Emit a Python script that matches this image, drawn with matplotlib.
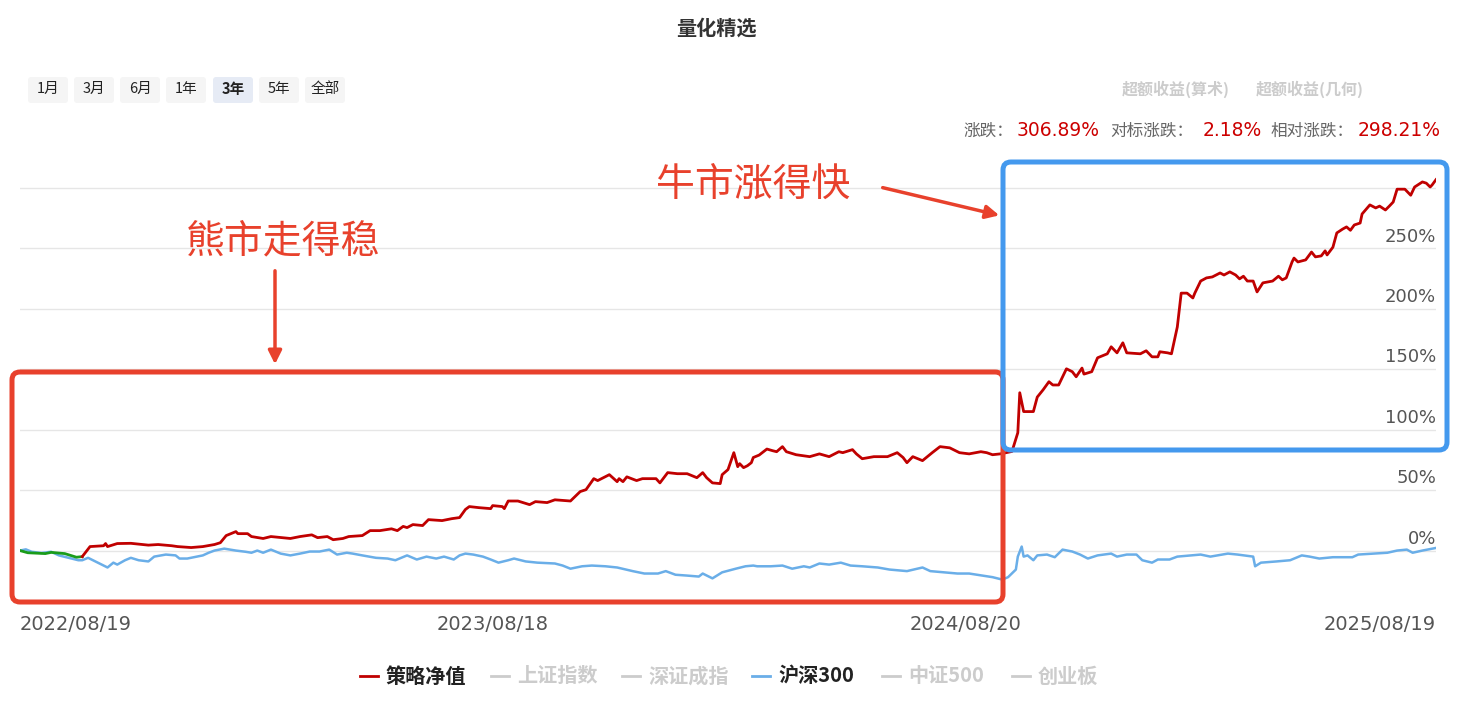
import matplotlib
matplotlib.use("Agg")
import matplotlib.pyplot as plt
from matplotlib.patches import FancyBboxPatch, FancyArrowPatch
from matplotlib.lines import Line2D
import numpy as np

plt.rcParams['font.family'] = ['Noto Sans CJK SC', 'DejaVu Sans']

W, H = 1470, 703

# trading-day index (0 = 2022/08/19, 728 = 2025/08/19) and cumulative return in %
strat_day = [0, 4, 13, 16, 23, 29, 32, 36, 43, 44, 45, 50, 57, 66, 71, 78, 81, 88, 94, 100,
             103, 106, 111, 112, 117, 119, 125, 129, 139, 144, 150, 153, 158, 161, 166, 169, 176, 180, 185, 191,
             194, 197, 199, 202, 207, 210, 217, 222, 226, 229, 231, 236, 242, 243, 248, 249, 251, 256, 262, 265,
             271, 275, 283, 288, 291, 295, 297, 299, 303, 307, 308, 310, 312, 317, 320, 327, 329, 333, 338, 343,
             348, 351, 353, 356, 360, 361, 364, 367, 369, 370, 372, 374, 376, 377, 380, 384, 387, 389, 392, 394,
             399, 406, 411, 416, 421, 423, 428, 430, 433, 439, 446, 451, 454, 456, 459, 464, 469, 473, 478, 483,
             488, 494, 497, 500, 504, 510, 513, 514, 516, 519, 521, 523, 526, 529, 531, 534, 536, 538, 541, 543,
             546, 547, 551, 554, 559, 561, 564, 567, 569, 576, 579, 582, 585, 586, 590, 592, 595, 597, 600, 603,
             604, 607, 610, 613, 617, 619, 622, 625, 627, 629, 631, 634, 636, 639, 644, 647, 649, 651, 654, 655,
             657, 661, 664, 666, 669, 671, 672, 675, 677, 680, 682, 684, 686, 689, 690, 694, 697, 699, 702, 704,
             706, 708, 712, 715, 717, 721, 723, 725, 726, 728]
strat_val = [0, -1.8, -2.5, -1.5, -2.5, -5.5, -5, 3.3, 4, 5.8, 3.3, 5.8, 6, 4.5, 5, 4, 3.3, 2.5, 3.3, 5,
             6.5, 12.4, 15.7, 14, 14, 11.6, 10, 11.6, 10, 11.6, 13, 10.7, 11.6, 9, 10, 11.6, 12.4, 16.5, 16.5, 18,
             16.5, 20, 19, 21.5, 20.7, 25.6, 24.8, 26.4, 27.3, 34, 36.4, 35.5, 34.7, 37.2, 36.4, 34.7, 41, 41, 38, 40.5,
             39.7, 42, 41, 48.8, 50.4, 59.5, 57.9, 59.5, 62.8, 57, 59.5, 57, 61, 57.9, 59.5, 59.5, 56, 64.5, 63.6, 63.6,
             60.3, 64.5, 60.3, 56, 55.4, 62.8, 67, 81, 69.4, 71.9, 68.6, 70.2, 72.7, 77, 79, 84, 82.6, 81.8, 86, 81.8,
             79.3, 77.7, 80, 77.7, 81.8, 81, 83.5, 80, 76, 77.7, 77.7, 81, 77, 72.7, 77.7, 74.4, 81, 86, 85, 81,
             80, 81.8, 81, 79.3, 80, 82, 97.5, 130.6, 115, 115, 115, 127, 133, 139.7, 137, 137, 143.8, 150.4, 148, 143.8,
             151, 146, 148, 159.5, 162.8, 168.6, 163.6, 171.9, 163.6, 162.8, 165.3, 160.3, 160.3, 164.5, 163.6, 162.8, 185, 213, 213, 209,
             213, 223, 225.6, 226.4, 229.7, 228, 230.6, 228, 224.8, 227, 223, 223, 214, 221.5, 223, 227, 224, 225.6, 238.8, 242,
             238.8, 240.5, 247, 243, 243.8, 248, 244.6, 251, 262.8, 266, 267.8, 265, 269.4, 271, 278.5, 286, 283.5, 285, 281.8, 285,
             288.4, 299, 299, 294, 300.8, 305, 304, 300.8, 302.5, 306.89]

hs300_day = [0, 3, 6, 11, 16, 20, 25, 30, 32, 35, 40, 42, 45, 48, 50, 54, 57, 61, 66, 69,
             75, 80, 82, 86, 94, 97, 100, 105, 111, 116, 119, 122, 125, 129, 134, 139, 144, 149, 154, 159,
             163, 168, 171, 176, 183, 189, 193, 199, 204, 209, 214, 218, 223, 226, 229, 233, 238, 242, 246, 251,
             254, 260, 266, 275, 279, 283, 289, 294, 301, 307, 315, 321, 328, 332, 337, 343, 349, 351, 356, 361,
             368, 373, 377, 379, 386, 392, 397, 403, 406, 411, 416, 422, 427, 433, 441, 447, 456, 464, 468, 475,
             482, 488, 495, 500, 505, 508, 512, 513, 515, 516, 518, 521, 523, 528, 532, 536, 541, 545, 549, 554,
             561, 564, 569, 574, 577, 582, 585, 591, 595, 602, 607, 612, 621, 626, 634, 635, 638, 646, 653, 659,
             663, 668, 675, 685, 688, 696, 703, 708, 713, 716, 721, 728]
hs300_val = [0, 1, -1, -2, -1, -4, -6, -8, -8, -6, -10, -11.6, -14, -10, -11.6, -8, -6, -8, -9, -5,
             -3.3, -4, -6.6, -6.6, -4, -1.8, 0, 1.6, 0, -1, -1.8, 0, -1.8, 0.8, -2.5, -4, -2.5, -0.8, -0.8, 0.8,
             -3.3, -1.8, -2.5, -4, -6, -6.6, -8, -4, -7.4, -5, -6.6, -5, -7.4, -4, -2.5, -3.3, -5, -7.4, -10, -8,
             -6.6, -9, -10, -10.7, -12.4, -15, -13, -12.4, -13, -14, -17, -19, -19, -17, -20, -20.7, -21.5, -19, -23, -18,
             -15, -13, -12.4, -13, -13, -12.4, -15, -13, -14, -10.7, -11.6, -10, -12.4, -13, -14, -15.7, -17, -14, -17, -18,
             -19, -19, -20.7, -22, -24, -22, -15.7, -5, 3.3, -5, -4, -8, -4, -3.3, -5.5, 0.8, -0.8, -3.3, -6.6, -4,
             -2.5, -5, -3.3, -3.3, -8, -10, -7.4, -7.4, -5, -4, -3.3, -5, -2.5, -3.3, -5, -13, -10, -9, -8, -4,
             -5, -6.6, -5.5, -5.5, -3.3, -2.5, -1.8, 0, 0.8, -1.8, 0, 2.18]

tick_days = [0, 243, 486, 728]
tick_labels = ["2022/08/19", "2023/08/18", "2024/08/20", "2025/08/19"]
y_ticks = [0, 50, 100, 150, 200, 250, 300]

periods = ["1月", "3月", "6月", "1年", "3年", "5年", "全部"]
period_x = [28, 74, 120, 166, 213, 259, 305]
selected_period = "3年"

legend_names = ["策略净值", "上证指数", "深证成指", "沪深300", "中证500", "创业板"]
legend_colors = ["#c00000", "#cccccc", "#cccccc", "#6aaee8", "#cccccc", "#cccccc"]
legend_active = [True, False, False, True, False, False]
legend_x = [360, 491, 622, 752, 882, 1012]

RED = "#c00000"
BLUE = "#6aaee8"
GREEN = "#1a9c1a"
ANNOT = "#e8412c"
BOXBLUE = "#4499ee"
NUMFONT = ['DejaVu Sans']


def fx(x):
    return x / W


def fy(y):
    return 1 - y / H


fig = plt.figure(figsize=(W / 100, H / 100), dpi=100)
fig.patch.set_facecolor("white")

# plot area in pixel coords: x 20..1436, y 170..611
ax = fig.add_axes([fx(20), fy(611), fx(1436) - fx(20), fy(170) - fy(611)])
ax.set_xlim(0, 728)
ax.set_ylim(-50, (551 - 170) / 60.5 * 50)
for s in ax.spines.values():
    s.set_visible(False)
ax.set_yticks([])

for v in y_ticks:
    ax.axhline(v, color="#e6e6e6", lw=1, zorder=0)
    if v < 300:
        ax.annotate(f"{v}%", (728, v), xytext=(0, 2), textcoords="offset points",
                    ha="right", va="bottom", fontsize=13, color="#555555", family=NUMFONT)

ax.plot(hs300_day, hs300_val, color=BLUE, lw=1.8, zorder=2)

# strategy line: green while below zero at the start, red afterwards
sd = np.array(strat_day)
sv = np.array(strat_val)
first_pos = int(np.argmax(sv > 0))
ax.plot(sd[:first_pos], sv[:first_pos], color=GREEN, lw=2, zorder=3)
ax.plot(sd[first_pos - 1:], sv[first_pos - 1:], color=RED, lw=2, zorder=3)

ax.set_xticks(tick_days)
ax.set_xticklabels(tick_labels, fontsize=14, color="#555555", family=NUMFONT)
ax.tick_params(axis="x", length=0, pad=3)
labs = ax.get_xticklabels()
labs[0].set_ha("left")
labs[-1].set_ha("right")

# title
fig.text(fx(716), fy(28), "量化精选", ha="center", va="center", fontsize=14.5,
         fontweight="bold", color="#333333")

# period buttons
for name, bx in zip(periods, period_x):
    sel = name == selected_period
    fig.add_artist(FancyBboxPatch((bx / 100, (H - 103) / 100), 0.40, 0.26,
                                  boxstyle="round,pad=0,rounding_size=0.03",
                                  transform=fig.dpi_scale_trans,
                                  facecolor="#e6ebf5" if sel else "#f5f5f5", edgecolor="none"))
    fig.text(fx(bx + 20), fy(89), name, ha="center", va="center", fontsize=10.5,
             fontweight="bold" if sel else "normal", color="#222222")

# excess return toggles
fig.text(fx(1176), fy(89), "超额收益(算术)", ha="center", va="center", fontsize=11.5,
         fontweight="bold", color="#cccccc")
fig.text(fx(1310), fy(89), "超额收益(几何)", ha="center", va="center", fontsize=11.5,
         fontweight="bold", color="#cccccc")

# summary stats
stats = [("涨跌：", 963, "#666666", 12, False), ("306.89%", 1017, "#cc0000", 13.5, True),
         ("对标涨跌：", 1110, "#666666", 12, False), ("2.18%", 1203, "#cc0000", 13.5, True),
         ("相对涨跌：", 1271, "#666666", 12, False), ("298.21%", 1358, "#cc0000", 13.5, True)]
for txt, sx, col, fs, num in stats:
    fig.text(fx(sx), fy(131), txt, ha="left", va="center", fontsize=fs, color=col,
             family=NUMFONT if num else ['Noto Sans CJK SC', 'DejaVu Sans'])

# legend
for name, col, act, lx in zip(legend_names, legend_colors, legend_active, legend_x):
    fig.add_artist(Line2D([fx(lx), fx(lx + 18)], [fy(676), fy(676)], transform=fig.transFigure,
                          color=col, lw=2))
    fig.text(fx(lx + 26), fy(676), name, ha="left", va="center", fontsize=14.5,
             fontweight="bold", color="#222222" if act else "#cccccc")

# highlight boxes
fig.add_artist(FancyBboxPatch((12 / 100, (H - 602) / 100), (1003 - 12) / 100, (602 - 372) / 100,
                              boxstyle="round,pad=0,rounding_size=0.08",
                              transform=fig.dpi_scale_trans, facecolor="none",
                              edgecolor=ANNOT, lw=3.6, zorder=5))
fig.add_artist(FancyBboxPatch((1003 / 100, (H - 450) / 100), (1447 - 1003) / 100, (450 - 162) / 100,
                              boxstyle="round,pad=0,rounding_size=0.08",
                              transform=fig.dpi_scale_trans, facecolor="none",
                              edgecolor=BOXBLUE, lw=3.6, zorder=6))

# annotations
fig.text(fx(753), fy(185), "牛市涨得快", ha="center", va="center", fontsize=28, color=ANNOT)
fig.text(fx(283), fy(241), "熊市走得稳", ha="center", va="center", fontsize=28, color=ANNOT)
fig.add_artist(FancyArrowPatch((880 / 100, (H - 187) / 100), (1002 / 100, (H - 216) / 100),
                               transform=fig.dpi_scale_trans, arrowstyle="-|>",
                               mutation_scale=20, color=ANNOT, lw=2.5, zorder=7))
fig.add_artist(FancyArrowPatch((275 / 100, (H - 268) / 100), (275 / 100, (H - 367) / 100),
                               transform=fig.dpi_scale_trans, arrowstyle="-|>",
                               mutation_scale=20, color=ANNOT, lw=2.5, zorder=7))

fig.savefig("out.png", dpi=100)
